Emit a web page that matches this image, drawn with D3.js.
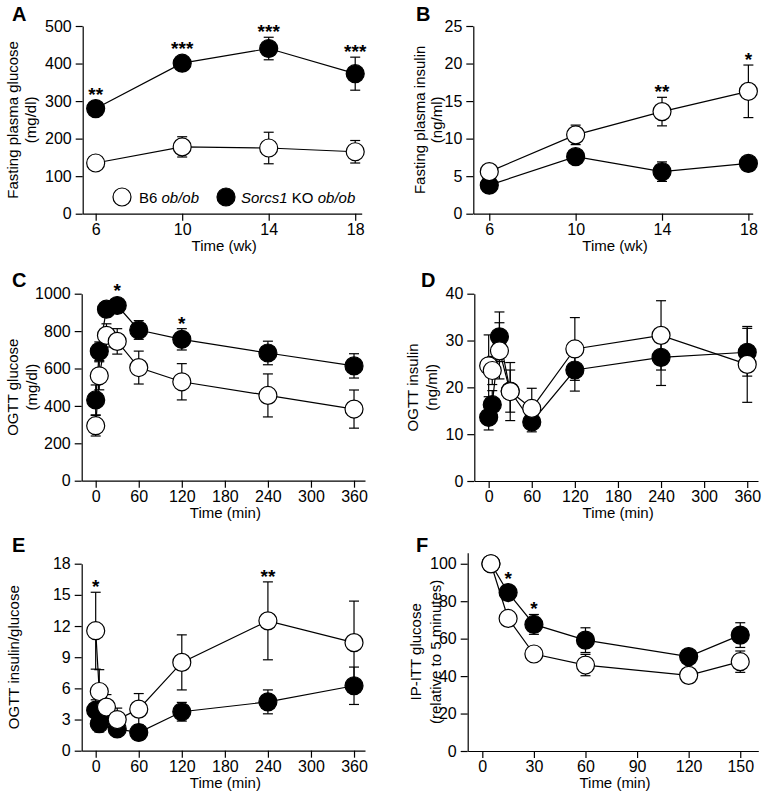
<!DOCTYPE html>
<html>
<head>
<meta charset="utf-8">
<style>
    body { margin: 0; background: #fff; }
    svg { display: block; font-family: 'Liberation Sans', Arial, Helvetica, sans-serif; }
    .axis path, .axis line { stroke: #000; stroke-width: 1.2; }
    .axis text { font-size: 16px; fill: #000; font-family: 'Liberation Sans', Arial, sans-serif; }
    .ttl { font-size: 15px; }
    .letter { font-size: 20px; font-weight: 900; }
    .star { font-size: 19px; font-weight: bold; }
</style>
</head>
<body>
<svg width="773" height="802"></svg>
<script src="https://d3js.org/d3.v7.min.js"></script>
<script>
    // time points
    const weeks = [6, 10, 14, 18];
    const ogttMin = [0, 5, 15, 30, 60, 120, 240, 360];
    const ittMin = [5, 15, 30, 60, 120, 150];

    // tick labels
    const weekTicks = [6, 10, 14, 18];
    const ogttTicks = [0, 60, 120, 180, 240, 300, 360];
    const ittTicks = [0, 30, 60, 90, 120, 150];
    const ticksA = [0, 100, 200, 300, 400, 500];
    const ticksB = [0, 5, 10, 15, 20, 25];
    const ticksC = [0, 200, 400, 600, 800, 1000];
    const ticksD = [0, 10, 20, 30, 40];
    const ticksE = [0, 3, 6, 9, 12, 15, 18];
    const ticksF = [0, 20, 40, 60, 80, 100];

    // A fasting plasma glucose (mg/dl)
    const fpgB6 = [135, 178, 175, 165];
    const fpgB6Sem = [8, 27, 42, 30];
    const fpgKO = [280, 401, 440, 373];
    const fpgKOSem = [10, 8, 30, 44];
    const fpgStars = ["**", "***", "***", "***"];

    // B fasting plasma insulin (ng/ml)
    const fpiB6 = [5.6, 10.5, 13.6, 16.3];
    const fpiB6Sem = [0.5, 1.3, 1.9, 3.5];
    const fpiKO = [3.8, 7.6, 5.6, 6.7];
    const fpiKOSem = [0.5, 0.6, 1.3, 0.5];
    const fpiStars = ["", "", "**", "*"];

    // C OGTT glucose (mg/dl)
    const ogB6 = [294, 561, 777, 745, 605, 529, 456, 383];
    const ogB6Sem = [55, 75, 62, 68, 88, 97, 115, 102];
    const ogKO = [432, 692, 917, 937, 806, 756, 683, 614];
    const ogKOSem = [80, 50, 40, 30, 50, 57, 63, 65];
    const ogStars = ["", "", "", "*", "", "*", "", ""];

    // D OGTT insulin (ng/ml)
    const oiB6 = [24.6, 23.6, 27.8, 19.1, 15.5, 28.2, 31.1, 24.9];
    const oiB6Sem = [6.6, 3, 6, 6.2, 4.3, 6.7, 7.4, 8.1];
    const oiKO = [13.6, 16.3, 30.8, 19.2, 12.6, 23.7, 26.4, 27.5];
    const oiKOSem = [2.7, 3, 5.3, 4.5, 2.1, 4.5, 6, 5.1];

    // E OGTT insulin/glucose
    const oigB6 = [11.55, 5.7, 4.2, 3.0, 4.0, 8.5, 12.5, 10.4];
    const oigB6Sem = [3.7, 2.1, 1.2, 1.1, 1.5, 2.65, 3.75, 4.0];
    const oigKO = [3.9, 2.6, 3.3, 2.1, 1.75, 3.75, 4.7, 6.25];
    const oigKOSem = [1.0, 0.8, 1.0, 0.6, 0.4, 0.9, 1.15, 1.8];
    const oigStars = ["*", "", "", "", "", "", "**", ""];

    // F IP-ITT glucose (% of 5 min)
    const ittB6 = [100, 70.8, 51.8, 45.9, 40.4, 47.7];
    const ittB6Sem = [0, 2, 1.5, 5.7, 1, 5.7];
    const ittKO = [100, 84.6, 67.6, 59.2, 50.4, 61.9];
    const ittKOSem = [0, 2.5, 5.3, 6.6, 1.5, 6.6];
    const ittStars = ["", "*", "*", "", "", ""];

    const svg = d3.select("svg");
    const R = 9;

    const panels = [
        { letter: "A", lx: 12, ly: 21, box: [82.7, 361.7, 213.7, 26], xDom: [5.4, 18.3], yDom: [0, 500],
          t: weeks, xt: weekTicks, yt: ticksA, open: fpgB6, openSem: fpgB6Sem, fill: fpgKO, fillSem: fpgKOSem,
          stars: fpgStars, ytitle: ["Fasting plasma glucose", "(mg/dl)"], tx: [13, 31], xtitle: "Time (wk)" },
        { letter: "B", lx: 416, ly: 21, box: [473.3, 752.7, 213.7, 26], xDom: [5.26, 18.2], yDom: [0, 25],
          t: weeks, xt: weekTicks, yt: ticksB, open: fpiB6, openSem: fpiB6Sem, fill: fpiKO, fillSem: fpiKOSem,
          stars: fpiStars, ytitle: ["Fasting plasma insulin", "(ng/ml)"], tx: [420, 437], xtitle: "Time (wk)" },
        { letter: "C", lx: 12, ly: 287, box: [81.7, 365, 480.7, 293.7], xDom: [-19.5, 375.3], yDom: [0, 1000],
          t: ogttMin, xt: ogttTicks, yt: ticksC, open: ogB6, openSem: ogB6Sem, fill: ogKO, fillSem: ogKOSem,
          stars: ogStars, ytitle: ["OGTT glucose", "(mg/dl)"], tx: [13, 32], xtitle: "Time (min)" },
        { letter: "D", lx: 421, ly: 287, box: [474.3, 758, 481, 293.7], xDom: [-20, 375], yDom: [0, 40],
          t: ogttMin, xt: ogttTicks, yt: ticksD, open: oiB6, openSem: oiB6Sem, fill: oiKO, fillSem: oiKOSem,
          stars: null, ytitle: ["OGTT insulin", "(ng/ml)"], tx: [413, 432], xtitle: "Time (min)" },
        { letter: "E", lx: 12, ly: 552, box: [81.7, 365, 750.7, 563.7], xDom: [-19.5, 375.3], yDom: [0, 18],
          t: ogttMin, xt: ogttTicks, yt: ticksE, open: oigB6, openSem: oigB6Sem, fill: oigKO, fillSem: oigKOSem,
          stars: oigStars, ytitle: ["OGTT insulin/glucose"], tx: [13.5], xtitle: "Time (min)" },
        { letter: "F", lx: 416, ly: 552, box: [467.7, 758.3, 751, 552.7], xDom: [-8.5, 160.5], yDom: [0, 105.9],
          t: ittMin, xt: ittTicks, yt: ticksF, open: ittB6, openSem: ittB6Sem, fill: ittKO, fillSem: ittKOSem,
          stars: ittStars, ytitle: ["IP-ITT glucose", "(relative to 5 minutes)"], tx: [416, 436], xtitle: "Time (min)" }
    ];

    panels.forEach(p => {
        let [x0, x1, y0, y1] = p.box;
        let x = d3.scaleLinear().domain(p.xDom).range([x0, x1]);
        let y = d3.scaleLinear().domain(p.yDom).range([y0, y1]);
        let g = svg.append("g");

        g.append("text").attr("class", "letter").attr("x", p.lx).attr("y", p.ly).text(p.letter);

        g.append("g").attr("class", "axis")
            .attr("transform", `translate(0,${y0})`)
            .call(d3.axisBottom(x).tickValues(p.xt).tickFormat(d3.format("d"))
                .tickSize(7).tickPadding(3).tickSizeOuter(0));
        g.append("g").attr("class", "axis")
            .attr("transform", `translate(${x0},0)`)
            .call(d3.axisLeft(y).tickValues(p.yt).tickFormat(d3.format("d"))
                .tickSize(7).tickPadding(4).tickSizeOuter(0));

        g.append("text").attr("class", "ttl")
            .attr("x", (x0 + x1) / 2 + 2).attr("y", y0 + 37)
            .attr("text-anchor", "middle").text(p.xtitle);

        let cy = (y0 + y1) / 2;
        p.ytitle.forEach((s, i) => {
            g.append("text").attr("class", "ttl")
                .attr("transform", `translate(${p.tx[i]},${cy}) rotate(-90)`)
                .attr("text-anchor", "middle").attr("dy", "0.35em").text(s);
        });

        // filled series first, open series drawn on top
        let series = [
            { m: p.fill, e: p.fillSem, color: "#000" },
            { m: p.open, e: p.openSem, color: "#fff" }
        ];
        series.forEach(s => {
            let pts = p.t.map((t, i) => ({ t: t, m: s.m[i], e: s.e[i] }));
            let sg = g.append("g");
            sg.append("path")
                .attr("d", d3.line().x(d => x(d.t)).y(d => y(d.m))(pts))
                .attr("fill", "none").attr("stroke", "#000").attr("stroke-width", 1.2);
            let eb = sg.selectAll(".eb").data(pts.filter(d => d.e > 0)).join("g");
            eb.append("line")
                .attr("x1", d => x(d.t)).attr("x2", d => x(d.t))
                .attr("y1", d => y(d.m - d.e)).attr("y2", d => y(d.m + d.e))
                .attr("stroke", "#000").attr("stroke-width", 1.2);
            [-1, 1].forEach(k => {
                eb.append("line")
                    .attr("x1", d => x(d.t) - 5).attr("x2", d => x(d.t) + 5)
                    .attr("y1", d => y(d.m + k * d.e)).attr("y2", d => y(d.m + k * d.e))
                    .attr("stroke", "#000").attr("stroke-width", 1.2);
            });
            sg.selectAll("circle").data(pts).join("circle")
                .attr("cx", d => x(d.t)).attr("cy", d => y(d.m)).attr("r", R)
                .attr("fill", s.color).attr("stroke", "#000").attr("stroke-width", 1.2);
        });

        if (p.stars) {
            p.stars.forEach((st, i) => {
                if (!st) return;
                let top = d3.min([
                    y(p.open[i] + p.openSem[i]), y(p.open[i]) - R,
                    y(p.fill[i] + p.fillSem[i]), y(p.fill[i]) - R
                ]);
                g.append("text").attr("class", "star")
                    .attr("x", x(p.t[i])).attr("y", top + 1)
                    .attr("text-anchor", "middle").text(st);
            });
        }
    });

    // legend in panel A
    let lg = svg.append("g").attr("class", "ttl");
    lg.append("circle").attr("cx", 122).attr("cy", 197).attr("r", R)
        .attr("fill", "#fff").attr("stroke", "#000").attr("stroke-width", 1.2);
    let t1 = lg.append("text").attr("x", 139).attr("y", 202.5);
    t1.append("tspan").text("B6 ");
    t1.append("tspan").attr("font-style", "italic").text("ob/ob");
    lg.append("circle").attr("cx", 226).attr("cy", 197).attr("r", R)
        .attr("fill", "#000").attr("stroke", "#000").attr("stroke-width", 1.2);
    let t2 = lg.append("text").attr("x", 241).attr("y", 202.5);
    t2.append("tspan").attr("font-style", "italic").text("Sorcs1");
    t2.append("tspan").text(" KO ");
    t2.append("tspan").attr("font-style", "italic").text("ob/ob");
</script>
</body>
</html>
